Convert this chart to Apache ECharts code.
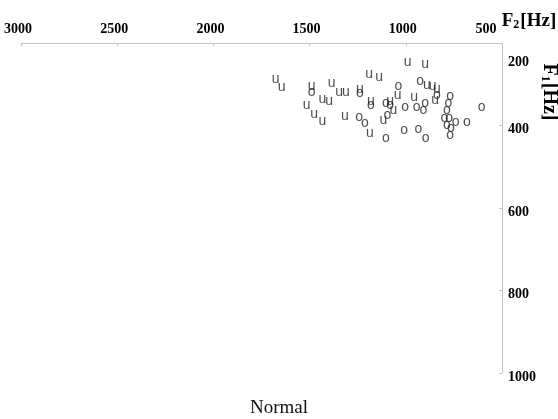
<!DOCTYPE html>
<html>
<head>
<meta charset="utf-8">
<script src="https://cdn.jsdelivr.net/npm/echarts@6/dist/echarts.min.js"></script>
<style>html,body{margin:0;padding:0;background:#fff;}#c{width:558px;height:419px;}</style>
</head>
<body>
<div id="c"></div>
<script>
// Tick values
const f2Ticks = [500, 1000, 1500, 2000, 2500, 3000];
const f1Ticks = [200, 400, 600, 800, 1000];
// "u" vowel tokens: F2 (Hz) and F1 (Hz)
const uF2 = [1676,1645,1489,1385,1347,1311,1434,1398,1515,1476,1434,1316,1238,990,900,1191,1139,891,860,839,957,1042,1181,1082,1065,1117,1186,848];
const uF1 = [291,310,309,302,322,322,340,345,354,375,393,380,316,249,255,278,286,306,308,316,334,330,345,345,367,391,423,342];
// "o" vowel tokens
const oF2 = [1489,1238,1243,1212,1039,926,1181,1082,1004,943,900,909,1104,1096,1104,1008,935,897,838,770,779,787,800,775,787,765,770,741,683,606];
const oF1 = [322,324,384,398,308,295,355,355,358,358,349,367,349,379,435,415,413,435,331,333,349,367,387,387,403,411,427,395,395,360];
const titleText = 'Normal';

const chart = echarts.init(document.getElementById('c'), null, {renderer: 'canvas'});
const serif = "'Liberation Serif', 'Times New Roman', serif";
function pts(xs, ys){ return xs.map((x,i)=>[x, ys[i]]); }
function vowelSeries(name, xs, ys){
  return {
    type: 'scatter', name: name, data: pts(xs, ys),
    symbol: 'circle', symbolSize: 6,
    itemStyle: {color: 'rgba(0,0,0,0)'},
    label: {show: true, position: 'inside', formatter: name, color: '#1e1e1e',
      fontFamily: "'Liberation Sans', Arial, sans-serif", fontSize: 14, offset: [0, -1.5]},
    emphasis: {disabled: true}, silent: true, animation: false
  };
}
chart.setOption({
  animation: false,
  backgroundColor: '#fff',
  title: {text: titleText, left: 'center', bottom: -4,
    textStyle: {fontFamily: serif, fontWeight: 'normal', fontSize: 19, color: '#111'}},
  grid: {left: 21, right: 56, top: 43, bottom: 46},
  xAxis: {
    type: 'value', position: 'top', inverse: true, min: 500, max: 3000, interval: 500,
    splitLine: {show: false},
    axisLine: {lineStyle: {color: '#c4c4c4', width: 1}},
    axisTick: {inside: true, length: 3, lineStyle: {color: '#c4c4c4'}},
    axisLabel: {margin: 7, color: '#000',
      formatter: v => v === 500 ? '{l|' + v + '}' : '{n|' + v + '}',
      rich: {
        n: {fontFamily: serif, fontWeight: 'bold', fontSize: 14, color: '#000', padding: [0, 6, 0, 0]},
        l: {fontFamily: serif, fontWeight: 'bold', fontSize: 14, color: '#000', padding: [0, 32, 0, 0]}
      }}
  },
  yAxis: {
    type: 'value', position: 'right', inverse: true, min: 200, max: 1000, interval: 200,
    splitLine: {show: false},
    axisLine: {lineStyle: {color: '#c4c4c4', width: 1}},
    axisTick: {inside: true, length: 3, lineStyle: {color: '#c4c4c4'}},
    axisLabel: {margin: 6, color: '#000',
      formatter: v => v === 200 ? '{t|' + v + '}' : '{n|' + v + '}',
      rich: {
        n: {fontFamily: serif, fontWeight: 'bold', fontSize: 14, color: '#000', padding: [8, 0, 0, 0]},
        t: {fontFamily: serif, fontWeight: 'bold', fontSize: 14, color: '#000', padding: [38, 0, 0, 0]}
      }}
  },
  graphic: [
    {type: 'text', x: 529, y: 21, silent: true,
      style: {text: '{b|F}{s|2}{b|[Hz]}', align: 'center', verticalAlign: 'middle',
        rich: {
          b: {fontFamily: serif, fontWeight: 'bold', fontSize: 19, color: '#000', lineHeight: 20, verticalAlign: 'bottom'},
          s: {fontFamily: serif, fontWeight: 'bold', fontSize: 12, color: '#000', lineHeight: 12, verticalAlign: 'bottom', padding: [0, 1, 0, 0]}
        }}},
    {type: 'text', x: 549, y: 92, rotation: -Math.PI / 2, silent: true,
      style: {text: '{b|F}{s|1}{b|[Hz]}', align: 'center', verticalAlign: 'middle',
        rich: {
          b: {fontFamily: serif, fontWeight: 'bold', fontSize: 20, color: '#000', lineHeight: 20, verticalAlign: 'bottom'},
          s: {fontFamily: serif, fontWeight: 'bold', fontSize: 12, color: '#000', lineHeight: 12, verticalAlign: 'bottom', padding: [0, 1, 0, 0]}
        }}}
  ],
  series: [vowelSeries('u', uF2, uF1), vowelSeries('o', oF2, oF1)]
});
</script>
</body>
</html>
